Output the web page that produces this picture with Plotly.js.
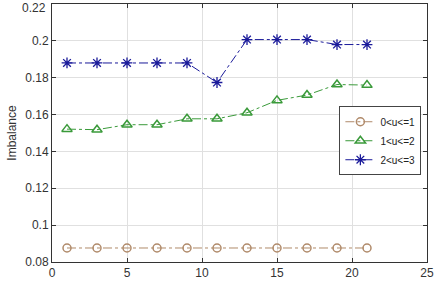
<!DOCTYPE html>
<html><head><meta charset="utf-8">
<script src="https://cdn.plot.ly/plotly-3.0.1.min.js"></script>
<style>html,body{margin:0;padding:0;background:#fff}#c{width:434px;height:283px}</style>
</head><body><div id="c"></div>
<script>
const xVals = [1,3,5,7,9,11,13,15,17,19,21];
const s1 = [0.0876,0.0876,0.0876,0.0876,0.0876,0.0876,0.0876,0.0876,0.0876,0.0876,0.0876];
const s2 = [0.1521,0.1518,0.1545,0.1545,0.1577,0.1577,0.161,0.1677,0.1706,0.1763,0.176];
const s3 = [0.188,0.188,0.188,0.188,0.188,0.1774,0.2007,0.2007,0.2007,0.198,0.198];
const names = ['0<u<=1','1<u<=2','2<u<=3'];
const xTicks = [0,5,10,15,20,25];
const yTicks = [0.08,0.1,0.12,0.14,0.16,0.18,0.2,0.22];
const yTickText = ['0.08','0.1','0.12','0.14','0.16','0.18','0.2','0.22'];
const topTick = yTicks[yTicks.length-1];
const topTickText = yTickText[yTickText.length-1];

const traces = [
  {x:xVals,y:s1,name:names[0],mode:'lines+markers',
   line:{color:'#b08a6a',width:1,dash:'dashdot'},
   marker:{symbol:'circle-open',size:8,color:'#b08a6a',line:{width:1.5}}},
  {x:xVals,y:s2,name:names[1],mode:'lines+markers',
   line:{color:'#3a9a3a',width:1,dash:'dashdot'},
   marker:{symbol:'triangle-up-open',size:9,color:'#3a9a3a',line:{width:1.5}}},
  {x:xVals,y:s3,name:names[2],mode:'lines+markers',
   line:{color:'#1a1a9a',width:1,dash:'dashdot'},
   marker:{symbol:'asterisk-open',size:9,color:'#1a1a9a',line:{width:1.3}}}
];
const layout = {
  width:434,height:283,
  margin:{l:52,r:7,t:4,b:21},
  paper_bgcolor:'#fff',plot_bgcolor:'#fff',
  font:{family:'Liberation Sans, Arial, sans-serif',size:12,color:'#333'},
  showlegend:true,
  legend:{x:0.985,y:0.47,xanchor:'right',yanchor:'middle',bgcolor:'#fff',
    bordercolor:'#444',borderwidth:1,font:{size:10,color:'#222'},
    tracegroupgap:0,itemwidth:30},
  annotations:[{x:0,xref:'paper',xanchor:'right',xshift:-4,y:topTick,yref:'y',
    yanchor:'top',yshift:5,text:topTickText,showarrow:false,font:{size:12,color:'#333'}}],
  xaxis:{range:[0,25],tickvals:xTicks,ticks:'inside',ticklen:4,tickcolor:'#333',
    showgrid:true,gridcolor:'#e0e0e0',zeroline:false,showline:true,linecolor:'#333',
    linewidth:1,mirror:'ticks',tickfont:{size:12,color:'#333'}},
  yaxis:{range:[0.08,0.22],tickvals:yTicks,ticktext:yTickText,ticks:'inside',ticklen:4,
    tickcolor:'#333',showgrid:true,gridcolor:'#e0e0e0',zeroline:false,showline:true,
    linecolor:'#333',linewidth:1,mirror:'ticks',tickfont:{size:12,color:'#333'},
    title:{text:'Imbalance',font:{size:12,color:'#333'},standoff:6}}
};
Plotly.newPlot('c',traces,layout,{displayModeBar:false,staticPlot:true});
</script></body></html>
